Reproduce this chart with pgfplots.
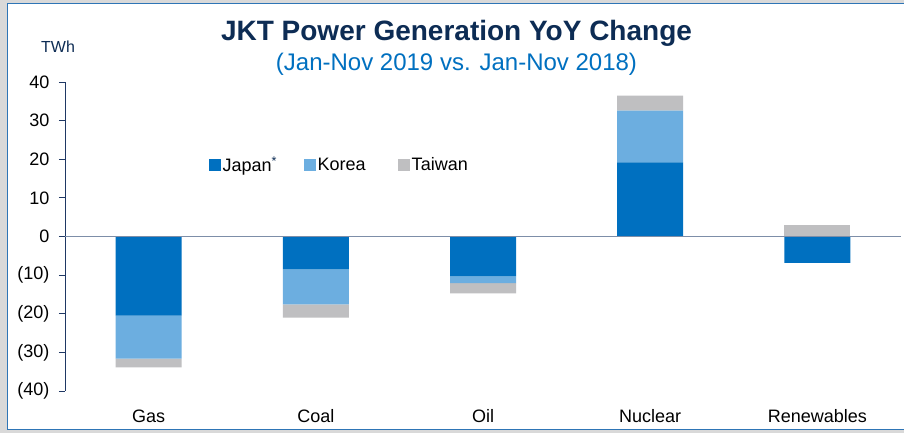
\documentclass[border=0pt]{standalone}
\usepackage{fontspec}
\setmainfont{Liberation Sans}
\usepackage{pgfplots}
\pgfplotsset{compat=1.18}

\definecolor{japan}{RGB}{0,112,192}
\definecolor{korea}{RGB}{108,174,224}
\definecolor{taiwan}{RGB}{191,191,193}
\definecolor{navy}{RGB}{13,44,84}
\definecolor{subblue}{RGB}{0,112,192}
\definecolor{axisnavy}{RGB}{31,56,100}
\definecolor{zeroline}{RGB}{125,142,168}
\definecolor{frameblue}{RGB}{46,117,182}
\definecolor{outside}{RGB}{217,217,217}

% shared geometry for the main axis and the overlay (positive renewables part)
\pgfplotsset{
  jkt/.style={
    scale only axis,
    width=836pt, height=309pt,
    at={(65pt,42pt)}, anchor=south west,
    ybar stacked, bar width=66pt,
    xmin=-0.5, xmax=4.5, ymin=-40, ymax=40,
  },
}

\begin{document}
\begin{tikzpicture}[x=1pt,y=1pt]
\path[use as bounding box] (0,0) rectangle (904,433);
\fill[outside] (0,0) rectangle (904,433);
\draw[frameblue, fill=white, line width=1pt] (7.5,3) rectangle (920,429);

\node[font=\fontsize{28}{32}\selectfont\bfseries, text=navy, anchor=base] at (456.5,392) {JKT Power Generation YoY Change};
\node[font=\fontsize{24}{28}\selectfont, text=subblue, anchor=base] at (456.5,362) {(Jan-Nov 2019 vs. Jan-Nov 2018)};
\node[font=\fontsize{16}{19}\selectfont, text=navy, anchor=base west, inner sep=0pt] at (41,380) {TWh};

% Taiwan renewables is positive while Japan is negative: drawn on its own
\begin{axis}[jkt, hide axis]
\addplot[fill=taiwan, draw=none] coordinates {(4,2.9)};
\end{axis}

\begin{axis}[jkt, axis on top,
  axis y line*=left, axis x line*=bottom,
  x axis line style={draw=none},
  y axis line style={draw=axisnavy, line width=0.8pt},
  xtick={0,...,4}, xticklabels={Gas,Coal,Oil,Nuclear,Renewables},
  xtick style={draw=none},
  ytick={-40,-30,...,40},
  yticklabels={(40),(30),(20),(10),0,10,20,30,40},
  ytick style={draw=axisnavy, line width=0.8pt},
  tick align=outside, major tick length=6pt,
  extra y ticks={0}, extra y tick labels={},
  extra y tick style={grid=major, major grid style={draw=zeroline, line width=1.8pt}, major tick length=0pt},
  ticklabel style={font=\fontsize{18}{21}\selectfont, text=black},
  xticklabel style={yshift=-9pt},
  yticklabel style={xshift=-6pt},
  legend style={at={(0.328,0.731)}, anchor=center, draw=none, fill=none,
    legend columns=3, font=\fontsize{18}{21}\selectfont,
    /tikz/every even column/.append style={column sep=30pt}},
  legend image code/.code={\fill[#1] (0pt,-6pt) rectangle (12pt,6pt);},
]
\addplot[fill=japan, draw=none] coordinates {(0,-20.5) (1,-8.5) (2,-10.3) (3,19.2) (4,-6.8)};
\addplot[fill=korea, draw=none] coordinates {(0,-11.1) (1,-9.1) (2,-1.8) (3,13.4) (4,0)};
\addplot[fill=taiwan, draw=none] coordinates {(0,-2.3) (1,-3.4) (2,-2.6) (3,3.9) (4,0)};
\legend{Japan\rlap{\textsuperscript{\color{navy}*}}, Korea, Taiwan}
\end{axis}
\end{tikzpicture}
\end{document}
